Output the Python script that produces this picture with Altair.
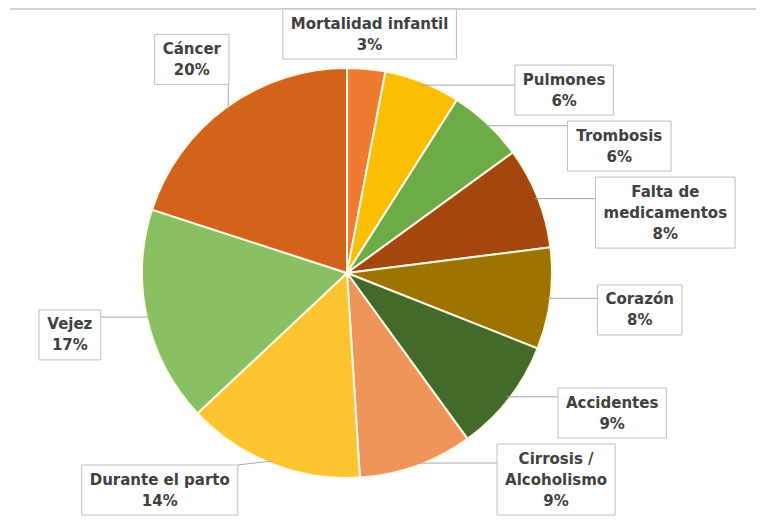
import math
import altair as alt
import pandas as pd

# ---- data ----
categories = ["Mortalidad infantil", "Pulmones", "Trombosis", "Falta de medicamentos",
              "Corazón", "Accidentes", "Cirrosis / Alcoholismo", "Durante el parto",
              "Vejez", "Cáncer"]
label_text = ["Mortalidad infantil", "Pulmones", "Trombosis", "Falta de\nmedicamentos",
              "Corazón", "Accidentes", "Cirrosis /\nAlcoholismo", "Durante el parto",
              "Vejez", "Cáncer"]
values = [3, 6, 6, 8, 8, 9, 9, 14, 17, 20]
colors = ["#EE7B30", "#FCBE00", "#6CAB45", "#A3470E", "#9E7400",
          "#436A2B", "#F0955A", "#FCC52F", "#8AC064", "#D3631A"]

# ---- layout settings ----
W, H = 748, 508
CX, CY, R = 339, 265, 205
MX, MY = 45, 8          # label clearance around the pie (horizontal / vertical)
GAP = 6
FONT_SIZE = 15
LINE_H = 21
PAD_X, PAD_Y = 8, 4

CHAR_EM = {
    "a": .675, "b": .716, "c": .593, "d": .716, "e": .678, "f": .435, "g": .716,
    "h": .712, "i": .343, "j": .343, "k": .665, "l": .343, "m": 1.042, "n": .712,
    "o": .687, "p": .716, "q": .716, "r": .493, "s": .595, "t": .478, "u": .712,
    "v": .652, "w": .924, "x": .645, "y": .652, "z": .582, "A": .774, "C": .734,
    "D": .830, "F": .683, "M": .995, "P": .733, "T": .682, "V": .774, " ": .348,
    "%": 1.002, "/": .365, "á": .675, "ó": .687,
}


def text_width(s):
    return sum(CHAR_EM.get(c, .696) for c in s) * FONT_SIZE


def clears(x, y, w, h):
    nx = min(max(CX, x - w / 2), x + w / 2)
    ny = min(max(CY, y - h / 2), y + h / 2)
    return ((nx - CX) / (R + MX)) ** 2 + ((ny - CY) / (R + MY)) ** 2 >= 1


total = sum(values)
items = []
cum = 0
for i, (cat, v, txt) in enumerate(zip(categories, values, label_text)):
    mid = (cum + v / 2) / total * 2 * math.pi
    cum += v
    lines = (txt + "\n" + f"{v}%").split("\n")
    bw = max(text_width(s) for s in lines) + 2 * PAD_X
    bh = len(lines) * LINE_H + 2 * PAD_Y
    ux, uy = math.sin(mid), -math.cos(mid)
    d = 0
    while not clears(CX + d * ux, CY + d * uy, bw, bh):
        d += 1
    x = min(max(CX + d * ux, bw / 2 + 1), W - bw / 2 - 1)
    y = min(max(CY + d * uy, bh / 2 + 1), H - bh / 2 - 1)
    items.append(dict(i=i, mid=mid, w=bw, h=bh, x=x, y=y, n=len(lines),
                      text="\n".join(lines), side=1 if mid < math.pi else -1))

for side in (1, -1):
    grp = [it for it in items if it["side"] == side]
    grp.sort(key=lambda it: it["mid"] * side)
    for k in range(1, len(grp)):
        a, b = grp[k - 1], grp[k]
        b["y"] = max(b["y"], a["y"] + a["h"] / 2 + b["h"] / 2 + GAP)
    grp[-1]["y"] = min(grp[-1]["y"], H - grp[-1]["h"] / 2 - 1)
    for k in range(len(grp) - 2, -1, -1):
        a, b = grp[k], grp[k + 1]
        a["y"] = min(a["y"], b["y"] - a["h"] / 2 - b["h"] / 2 - GAP)
    for it in grp:
        while not clears(it["x"], it["y"], it["w"], it["h"]):
            it["x"] += side
        it["x"] = min(max(it["x"], it["w"] / 2 + 1), W - it["w"] / 2 - 1)

rows = []
lead = []
for it in items:
    x0, x1 = it["x"] - it["w"] / 2, it["x"] + it["w"] / 2
    y0, y1 = it["y"] - it["h"] / 2, it["y"] + it["h"] / 2
    rows.append(dict(cx=it["x"], ty=it["y"] - (it["n"] - 1) * LINE_H / 2,
                     x0=x0, x1=x1, y0=y0, y1=y1, text=it["text"]))
    ax = CX + (R - 3) * math.sin(it["mid"])
    ay = CY - (R - 3) * math.cos(it["mid"])
    bx = min(max(ax, x0), x1)
    by = min(max(ay, y0), y1)
    if math.hypot(bx - ax, by - ay) > 14:
        lead.append(dict(ax=ax, ay=ay, bx=bx, by=by))

pie_df = pd.DataFrame({"category": categories, "value": values, "idx": list(range(len(values)))})
lab_df = pd.DataFrame(rows)
lead_df = pd.DataFrame(lead)

xs = alt.Scale(domain=[0, W], nice=False, zero=False)
ys = alt.Scale(domain=[0, H], nice=False, zero=False, reverse=True)

frame = alt.Chart(pie_df).mark_rule(color="#D0D0D0", strokeWidth=1.5).encode(
    x=alt.value(2), x2=alt.value(W), y=alt.value(1)
)

pie = alt.Chart(pie_df).mark_arc(outerRadius=R, stroke="#FFF8E6", strokeWidth=2).encode(
    theta=alt.Theta("value:Q", stack=True),
    color=alt.Color("category:N", scale=alt.Scale(domain=categories, range=colors), legend=None),
    order=alt.Order("idx:Q"),
    x=alt.value(CX),
    y=alt.value(CY),
)

leaders = alt.Chart(lead_df).mark_rule(color="#A6A6A6", strokeWidth=1).encode(
    x=alt.X("ax:Q", scale=xs, axis=None),
    y=alt.Y("ay:Q", scale=ys, axis=None),
    x2="bx:Q",
    y2="by:Q",
)

boxes = alt.Chart(lab_df).mark_rect(fill="white", stroke="#BFBFBF", strokeWidth=1).encode(
    x=alt.X("x0:Q", scale=xs, axis=None),
    x2="x1:Q",
    y=alt.Y("y0:Q", scale=ys, axis=None),
    y2="y1:Q",
)

texts = alt.Chart(lab_df).mark_text(
    font="DejaVu Sans", fontWeight="bold", fontSize=FONT_SIZE, color="#404040",
    align="center", baseline="middle", lineBreak="\n", lineHeight=LINE_H,
).encode(
    x=alt.X("cx:Q", scale=xs, axis=None),
    y=alt.Y("ty:Q", scale=ys, axis=None),
    text="text:N",
)

chart = alt.layer(frame, pie, leaders, boxes, texts).properties(
    width=W, height=H, padding=0, autosize=alt.AutoSizeParams(type="none"),
    background="white",
).configure_view(stroke=None)

chart.save("out.html", embed_options={"renderer": "svg", "actions": False})
